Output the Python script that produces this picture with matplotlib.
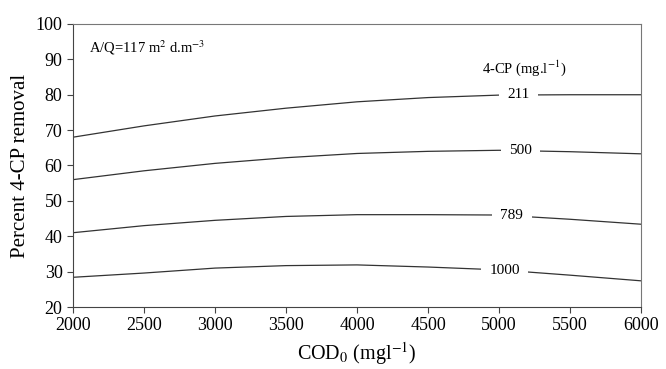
import numpy as np
import matplotlib.pyplot as plt

plt.rcParams['font.family'] = 'Liberation Serif'
plt.rcParams['mathtext.fontset'] = 'stix'

cod = [2000, 2500, 3000, 3500, 4000, 4500, 5000, 5500, 6000]
cp_levels = ['211', '500', '789', '1000']
r211 = [68.0, 71.2, 74.0, 76.2, 78.0, 79.2, 79.9, 80.0, 80.0]
r500 = [56.0, 58.5, 60.6, 62.2, 63.4, 64.0, 64.3, 63.9, 63.3]
r789 = [41.0, 43.0, 44.5, 45.6, 46.1, 46.1, 46.0, 44.8, 43.4]
r1000 = [28.4, 29.6, 31.0, 31.7, 31.9, 31.3, 30.5, 29.0, 27.4]
label_x = [5140, 5150, 5090, 5040]

series = [r211, r500, r789, r1000]

fig = plt.figure(figsize=(6.66, 3.69), dpi=100)
ax = fig.add_axes([0.1096, 0.168, 0.853, 0.767])

for lab, vals, lx in zip(cp_levels, series, label_x):
    ax.plot(cod, vals, color='#333333', lw=0.9)
    ly = np.interp(lx, cod, vals)
    ax.text(lx, ly, lab, ha='center', va='center', fontsize=11,
            bbox=dict(facecolor='white', edgecolor='none', pad=6))

ax.set_xlim(2000, 6000)
ax.set_ylim(20, 100)
ax.set_xticks(range(2000, 6001, 500))
ax.set_yticks(range(20, 101, 10))
ax.tick_params(labelsize=13, direction='out', length=4, color='#444444')
for s in ['top', 'right']:
    ax.spines[s].set_color('#777777')
for s in ['left', 'bottom']:
    ax.spines[s].set_color('#444444')

ax.text(2110, 93.3, 'A/Q=117 m$^{2}$ d.m$^{-3}$', fontsize=10.5, va='center')
ax.text(5180, 87.6, '4-CP (mg.l$^{-1}$)', fontsize=10.5, ha='center', va='center')

ax.set_ylabel('Percent 4-CP removal', fontsize=15)
ax.set_xlabel('COD$_{0}$ (mgl$^{-1}$)', fontsize=14.5, labelpad=4)

fig.savefig('out.png', dpi=100)
